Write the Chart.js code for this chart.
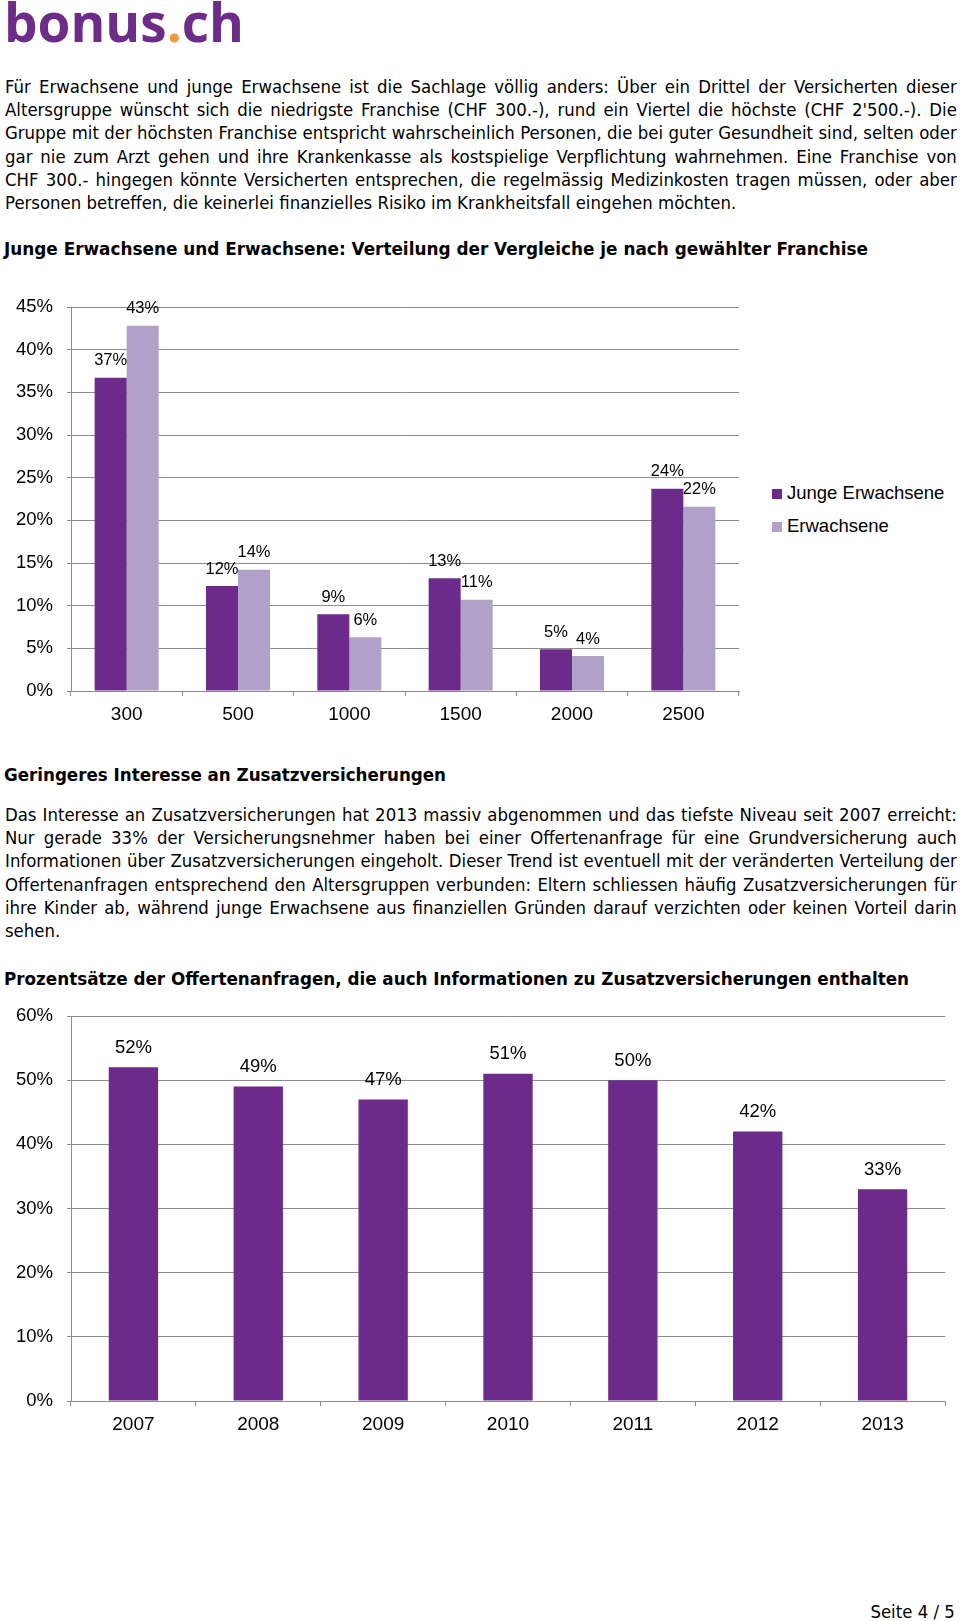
<!DOCTYPE html>
<html lang="de">
<head>
<meta charset="utf-8">
<title>bonus.ch – Franchise und Zusatzversicherungen</title>
<script src="https://cdn.jsdelivr.net/npm/chart.js@4.4.1/dist/chart.umd.min.js"></script>
<style>
  html, body { margin: 0; padding: 0; background: #fff; }
  body { width: 960px; height: 1621px; position: relative; overflow: hidden; font-family: "DejaVu Sans", sans-serif; color: #000; }
  .logo { position: absolute; left: 4px; top: -6px; font: 700 54px "Open Sans", sans-serif; line-height: 54px; color: #6c2c88; white-space: nowrap; transform-origin: left top; }
  .logo .dot { color: #f39b3a; }
  .para { position: absolute; left: 5px; font-size: 18px; line-height: 23.2px; }
  .para .ln { white-space: nowrap; transform-origin: left top; }
  .head { position: absolute; left: 4px; font-weight: bold; font-size: 18px; line-height: 23.2px; white-space: nowrap; transform-origin: left top; }
  .foot { position: absolute; right: 5px; top: 1600px; font-size: 18px; line-height: 23.2px; white-space: nowrap; transform-origin: right top; }
  canvas { position: absolute; left: 0; }
  .legend { position: absolute; left: 772px; top: 481px; font: 18.5px "Liberation Sans", Arial, sans-serif; }
  .legend div { position: relative; height: 33px; line-height: 24px; padding-left: 15px; white-space: nowrap; }
  .legend span { position: absolute; left: 0; top: 8px; width: 10px; height: 10px; }
</style>
</head>
<body>

<div class="logo" data-w="240">bonus<span class="dot">.</span>ch</div>

<div class="para" id="p1" style="top:75px">
  <div class="ln j">Für Erwachsene und junge Erwachsene ist die Sachlage völlig anders: Über ein Drittel der Versicherten dieser</div>
  <div class="ln j">Altersgruppe wünscht sich die niedrigste Franchise (CHF 300.-), rund ein Viertel die höchste (CHF 2'500.-). Die</div>
  <div class="ln j">Gruppe mit der höchsten Franchise entspricht wahrscheinlich Personen, die bei guter Gesundheit sind, selten oder</div>
  <div class="ln j">gar nie zum Arzt gehen und ihre Krankenkasse als kostspielige Verpflichtung wahrnehmen. Eine Franchise von</div>
  <div class="ln j">CHF 300.- hingegen könnte Versicherten entsprechen, die regelmässig Medizinkosten tragen müssen, oder aber</div>
  <div class="ln">Personen betreffen, die keinerlei finanzielles Risiko im Krankheitsfall eingehen möchten.</div>
</div>

<div class="head" style="top:237px" data-w="864">Junge Erwachsene und Erwachsene: Verteilung der Vergleiche je nach gewählter Franchise</div>

<canvas id="franchiseChart" width="750" height="451" style="top:280px"></canvas>
<div class="legend" id="franchiseLegend"></div>

<div class="head" style="top:763px" data-w="442">Geringeres Interesse an Zusatzversicherungen</div>

<div class="para" id="p2" style="top:803px">
  <div class="ln j">Das Interesse an Zusatzversicherungen hat 2013 massiv abgenommen und das tiefste Niveau seit 2007 erreicht:</div>
  <div class="ln j">Nur gerade 33% der Versicherungsnehmer haben bei einer Offertenanfrage für eine Grundversicherung auch</div>
  <div class="ln j">Informationen über Zusatzversicherungen eingeholt. Dieser Trend ist eventuell mit der veränderten Verteilung der</div>
  <div class="ln j">Offertenanfragen entsprechend den Altersgruppen verbunden: Eltern schliessen häufig Zusatzversicherungen für</div>
  <div class="ln j">ihre Kinder ab, während junge Erwachsene aus finanziellen Gründen darauf verzichten oder keinen Vorteil darin</div>
  <div class="ln">sehen.</div>
</div>

<div class="head" style="top:967px" data-w="905">Prozentsätze der Offertenanfragen, die auch Informationen zu Zusatzversicherungen enthalten</div>

<canvas id="zusatzChart" width="960" height="451" style="top:990px"></canvas>

<div class="foot" id="foot">Seite 4 / 5</div>

<script>
// --- data ---
const franchiseLabels = ['300', '500', '1000', '1500', '2000', '2500'];
const seriesNames = ['Junge Erwachsene', 'Erwachsene'];
const jungeErwachsene = [36.7, 12.3, 9.0, 13.2, 4.9, 23.7];
const erwachsene = [42.8, 14.2, 6.3, 10.7, 4.1, 21.6];
const franchiseTicks = [0, 5, 10, 15, 20, 25, 30, 35, 40, 45];

const years = ['2007', '2008', '2009', '2010', '2011', '2012', '2013'];
const zusatzAnteil = [52, 49, 47, 51, 50, 42, 33];
const zusatzTicks = [0, 10, 20, 30, 40, 50, 60];

const DARK = '#6c2a8b';
const LIGHT = '#b1a1c8';
const GRID = '#8c8c8c';

// --- text fitting (Tahoma is not installed, so DejaVu Sans is squeezed to the page width) ---
function fitText() {
  const paras = [document.getElementById('p1'), document.getElementById('p2')];
  let widest = 0;
  paras.forEach(p => p.querySelectorAll('.ln').forEach(l => {
    l.style.display = 'inline-block';
    if (l.classList.contains('j')) widest = Math.max(widest, l.getBoundingClientRect().width);
  }));
  const s = 950 / widest;
  paras.forEach(p => p.querySelectorAll('.ln').forEach(l => {
    l.style.display = 'block';
    l.style.transform = 'scaleX(' + s + ')';
    if (l.classList.contains('j')) {
      l.style.whiteSpace = 'normal';
      l.style.width = (widest + 2) + 'px';
      l.style.textAlign = 'justify';
      l.style.textAlignLast = 'justify';
    }
  }));
  document.getElementById('foot').style.transform = 'scaleX(' + s + ')';
  document.querySelectorAll('[data-w]').forEach(el => {
    const w = el.getBoundingClientRect().width;
    el.style.transform = 'scaleX(' + (el.dataset.w / w) + ')';
  });
}
fitText();

// --- chart helpers ---
Chart.defaults.font.family = '"Liberation Sans", Arial, sans-serif';
Chart.defaults.color = '#000';

const valueLabels = {
  id: 'valueLabels',
  afterDatasetsDraw(chart, args, opts) {
    const { ctx } = chart;
    ctx.save();
    ctx.font = opts.size + 'px "Liberation Sans", Arial, sans-serif';
    ctx.fillStyle = '#000';
    ctx.textAlign = 'center';
    ctx.textBaseline = 'middle';
    chart.data.datasets.forEach((ds, i) => {
      chart.getDatasetMeta(i).data.forEach((bar, j) => {
        ctx.fillText(Math.round(ds.data[j]) + '%', bar.x, bar.y - opts.offset);
      });
    });
    ctx.restore();
  }
};

function scales(ticks) {
  return {
    x: {
      offset: true,
      grid: { display: true, drawOnChartArea: false, drawTicks: true, tickLength: 5, offset: true, color: GRID, lineWidth: 1 },
      border: { display: true, color: GRID, width: 1 },
      ticks: { color: '#000', font: { size: 19 }, padding: 7 },
      afterFit: s => { s.height = 40; }
    },
    y: {
      min: ticks[0],
      max: ticks[ticks.length - 1],
      afterBuildTicks: s => { s.ticks = ticks.map(v => ({ value: v })); },
      grid: { color: GRID, lineWidth: 1, tickLength: 4, drawTicks: true },
      border: { display: true, color: GRID, width: 1 },
      ticks: { color: '#000', font: { size: 18.5 }, padding: 14, callback: v => v + '%' },
      afterFit: s => { s.width = 71; }
    }
  };
}

// --- chart 1: Franchise ---
new Chart(document.getElementById('franchiseChart'), {
  type: 'bar',
  data: {
    labels: franchiseLabels,
    datasets: [
      { label: seriesNames[0], data: jungeErwachsene, backgroundColor: DARK },
      { label: seriesNames[1], data: erwachsene, backgroundColor: LIGHT }
    ]
  },
  options: {
    responsive: false,
    animation: false,
    events: [],
    layout: { padding: { top: 27, right: 11, left: 0, bottom: 0 } },
    datasets: { bar: { categoryPercentage: 0.575, barPercentage: 1 } },
    scales: scales(franchiseTicks),
    plugins: {
      legend: { display: false },
      tooltip: { enabled: false },
      valueLabels: { size: 16.5, offset: 17 }
    }
  },
  plugins: [valueLabels]
});

// legend for chart 1, built from the same series names / colours
const legendEl = document.getElementById('franchiseLegend');
[DARK, LIGHT].forEach((c, i) => {
  const row = document.createElement('div');
  row.innerHTML = '<span style="background:' + c + '"></span>' + seriesNames[i];
  legendEl.appendChild(row);
});

// --- chart 2: Zusatzversicherungen ---
new Chart(document.getElementById('zusatzChart'), {
  type: 'bar',
  data: {
    labels: years,
    datasets: [{ label: 'Zusatzversicherungen', data: zusatzAnteil, backgroundColor: DARK }]
  },
  options: {
    responsive: false,
    animation: false,
    events: [],
    layout: { padding: { top: 26, right: 15, left: 0, bottom: 0 } },
    datasets: { bar: { categoryPercentage: 0.395, barPercentage: 1 } },
    scales: scales(zusatzTicks),
    plugins: {
      legend: { display: false },
      tooltip: { enabled: false },
      valueLabels: { size: 18.5, offset: 19.5 }
    }
  },
  plugins: [valueLabels]
});
</script>
</body>
</html>
